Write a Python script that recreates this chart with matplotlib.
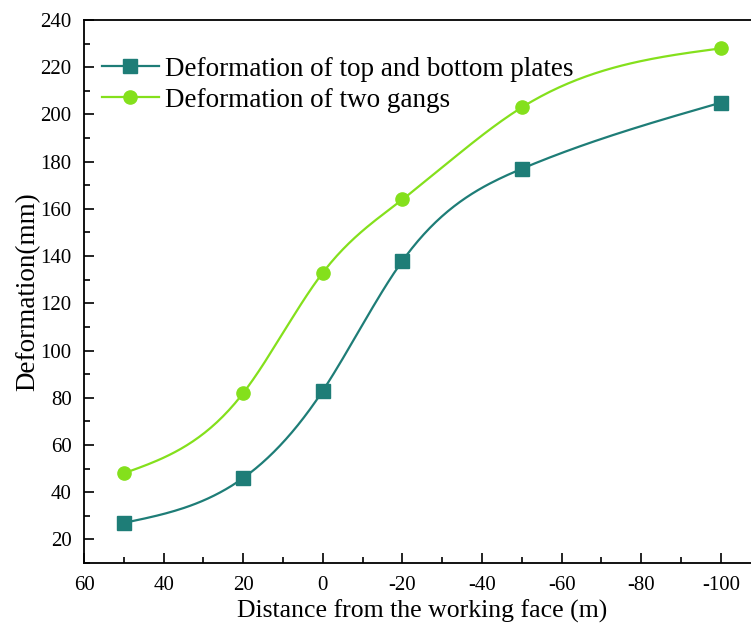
import numpy as np
import matplotlib
matplotlib.use("Agg")
import matplotlib.pyplot as plt
from matplotlib.ticker import MultipleLocator

plt.rcParams["font.family"] = ["Liberation Serif", "DejaVu Serif"]
plt.rcParams["axes.unicode_minus"] = False

# data
distance = [50, 20, 0, -20, -50, -100]
plates = [27, 46, 83, 138, 177, 205]
gangs = [48, 82, 133, 164, 203, 228]

label_plates = "Deformation of top and bottom plates"
label_gangs = "Deformation of two gangs"


def natural_spline(x, y, n=200):
    """natural cubic spline through the points (only for drawing the smooth line)"""
    x = np.asarray(x, dtype=float)
    y = np.asarray(y, dtype=float)
    order = np.argsort(x)
    x, y = x[order], y[order]
    k = len(x)
    h = np.diff(x)
    A = np.zeros((k, k))
    b = np.zeros(k)
    A[0, 0] = A[-1, -1] = 1
    for i in range(1, k - 1):
        A[i, i - 1] = h[i - 1]
        A[i, i] = 2 * (h[i - 1] + h[i])
        A[i, i + 1] = h[i]
        b[i] = 3 * ((y[i + 1] - y[i]) / h[i] - (y[i] - y[i - 1]) / h[i - 1])
    c = np.linalg.solve(A, b)
    xs = np.linspace(x[0], x[-1], n)
    ys = np.empty_like(xs)
    for j, xv in enumerate(xs):
        i = min(np.searchsorted(x, xv, side="right") - 1, k - 2)
        dx = xv - x[i]
        bi = (y[i + 1] - y[i]) / h[i] - h[i] * (2 * c[i] + c[i + 1]) / 3
        di = (c[i + 1] - c[i]) / (3 * h[i])
        ys[j] = y[i] + bi * dx + c[i] * dx ** 2 + di * dx ** 3
    return xs, ys


fig = plt.figure(figsize=(7.51, 6.25), dpi=100)
ax = fig.add_axes([0.1119, 0.0992, 0.901, 0.8688])

teal = "#1e7d77"
lime = "#84e01c"

for yv, col, mk, lab in [(plates, teal, "s", label_plates), (gangs, lime, "o", label_gangs)]:
    xs, ys = natural_spline(distance, yv)
    ax.plot(xs, ys, color=col, linewidth=1.6)
    ax.plot(distance, yv, linestyle="none", marker=mk, color=col, markersize=9.5)
    ax.plot([], [], color=col, marker=mk, markersize=9.5, linewidth=1.6, label=lab)

ax.set_xlim(60, -110)
ax.set_ylim(10, 240)
ax.xaxis.set_major_locator(MultipleLocator(20))
ax.xaxis.set_minor_locator(MultipleLocator(10))
ax.yaxis.set_major_locator(MultipleLocator(20))
ax.yaxis.set_minor_locator(MultipleLocator(10))
ax.set_yticks(np.arange(20, 241, 20))
ax.tick_params(which="major", direction="in", length=7.5, width=1.2, labelsize=15, pad=9)
ax.tick_params(which="minor", direction="in", length=4, width=1.2)
for s in ax.spines.values():
    s.set_linewidth(1.3)

ax.set_xlabel("Distance from the working face (m)", fontsize=18.5, labelpad=4)
ax.set_ylabel("Deformation(mm)", fontsize=19.5, labelpad=0)

ax.legend(loc="upper left", bbox_to_anchor=(0.026, 0.932), frameon=False, fontsize=19.5,
          handlelength=2.1, handletextpad=0.25, labelspacing=0.21, borderaxespad=0.0,
          borderpad=0.0)

fig.savefig("out.png", dpi=100)
